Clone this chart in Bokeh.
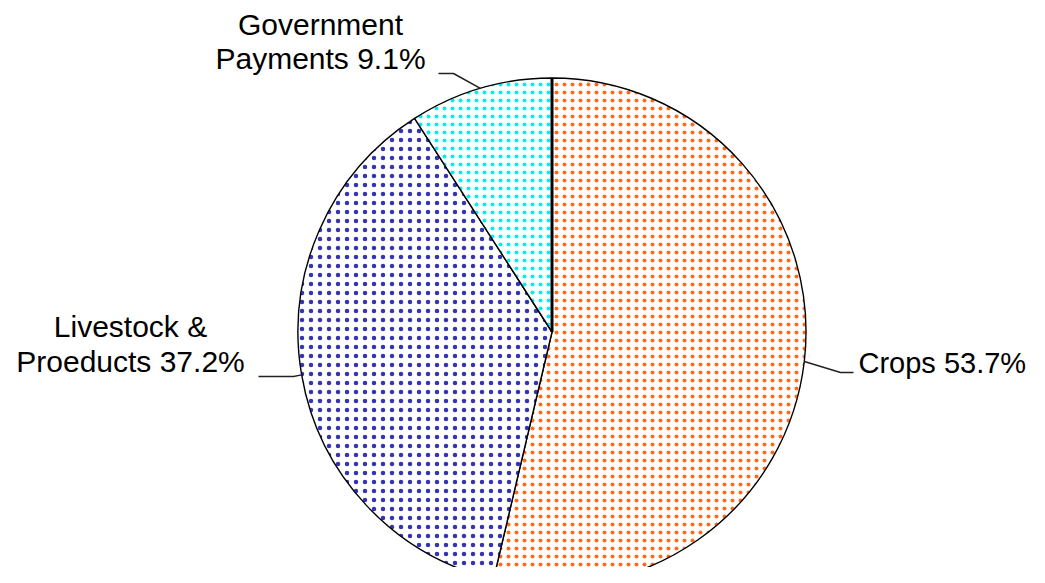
import numpy as np
from bokeh.plotting import figure
from bokeh.models import Range1d, ColumnDataSource
from bokeh.core.properties import value
from bokeh.embed import file_html
from bokeh.resources import INLINE

# ---- data ----
categories = ["Crops", "Livestock & Proeducts", "Government Payments"]
shares = [53.7, 37.2, 9.1]
label_line1 = ["Crops", "Livestock &", "Government"]
label_line2 = ["", "Proeducts", "Payments"]

# ---- styles ----
hatch_colors = ["#FF6A1A", "#3434B4", "#00F0F0"]
hatch_scales = [8, 9, 8]
hatch_weights = [1.8, 2.0, 1.8]

W, H = 1029, 567
def Y(s):  # screen y -> data y
    return 583 - s

cx, cy, R = 551.5, 331.5, 254
dy_text = -11

p = figure(width=W, height=H, x_range=Range1d(0, W), y_range=Range1d(583 - H, 583),
           toolbar_location=None, output_backend="svg", min_border=0,
           x_axis_type=None, y_axis_type=None)
p.grid.visible = False
p.outline_line_color = None
p.background_fill_color = "white"
p.border_fill_color = "white"

frac = np.array(shares) / np.sum(shares)
cum = np.concatenate([[0], np.cumsum(frac)])
starts = np.pi / 2 - 2 * np.pi * cum[:-1]
ends = np.pi / 2 - 2 * np.pi * cum[1:]
mids = (starts + ends) / 2

src = ColumnDataSource(dict(start=starts, end=ends, hc=hatch_colors, hs=hatch_scales,
                            hw=hatch_weights, name=categories))
p.wedge(x=cx, y=Y(cy), radius=R, start_angle="start", end_angle="end", direction="clock",
        source=src, fill_color="white", hatch_pattern="dot", hatch_color="hc",
        hatch_scale="hs", hatch_weight="hw", line_color="black", line_width=1.4)
p.ray(x=[cx], y=[Y(cy)], length=R, angle=[starts[0]], line_color="black", line_width=3)

# leader lines: from wedge edge at mid-angle to elbow to end
elbows = [(840, 372), (293, 376), (453, 73)]
ends_pt = [(853, 372), (258, 376), (438, 73)]
xs, ys = [], []
for m, (ex, ey), (tx, ty) in zip(mids, elbows, ends_pt):
    sx = cx + R * np.cos(m)
    sy = Y(cy) + R * np.sin(m)
    xs.append([sx, ex, tx])
    ys.append([sy, Y(ey), Y(ty)])
p.multi_line(xs=xs, ys=ys, line_color="#222222", line_width=1.5)

font = value("Liberation Sans")
fs = "30px"
p.text(x=[858], y=[Y(373 + dy_text)], text=[f"{label_line1[0]} {shares[0]}%"], text_font=font,
       text_font_size="29px", text_align="left", text_baseline="alphabetic", text_color="black")
p.text(x=[130, 130], y=[Y(337 + dy_text), Y(372 + dy_text)],
       text=[label_line1[1], f"{label_line2[1]} {shares[1]}%"], text_font=font,
       text_font_size=fs, text_align="center", text_baseline="alphabetic", text_color="black")
p.text(x=[320, 320], y=[Y(35 + dy_text), Y(69 + dy_text)],
       text=[label_line1[2], f"{label_line2[2]} {shares[2]}%"], text_font=font,
       text_font_size=fs, text_align="center", text_baseline="alphabetic", text_color="black")

open("out.html", "w").write(file_html(p, INLINE))
